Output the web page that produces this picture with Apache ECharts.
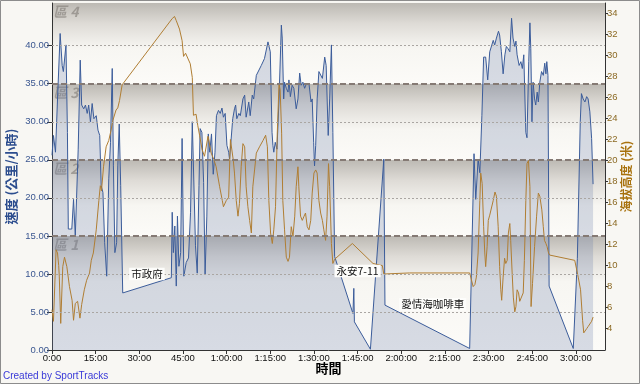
<!DOCTYPE html>
<html><head><meta charset="utf-8">
<script src="https://cdn.jsdelivr.net/npm/echarts@6/dist/echarts.min.js"></script>
<style>html,body{margin:0;padding:0;background:#f8f7f3}#c{width:640px;height:384px}</style>
</head><body><div id="c"></div>
<script>
// ---- data (time in minutes) ----
const speedTime = [0.0,0.5,1.2,1.9,2.8,3.5,3.9,4.8,5.3,5.6,6.8,7.4,8.0,9.0,9.7,10.2,10.9,11.5,12.1,12.6,13.2,13.8,14.4,15.2,15.8,16.4,16.9,17.5,18.1,18.8,19.5,20.1,20.7,21.1,21.6,22.2,22.6,23.1,23.6,24.3,
41.0,41.3,41.7,42.2,42.7,43.1,43.6,44.2,44.7,45.3,46.1,46.9,47.6,48.2,48.7,49.3,49.9,50.5,50.9,51.5,52.1,52.6,53.2,53.7,54.2,54.8,55.4,56.0,56.5,57.2,57.8,58.4,58.9,59.5,60.1,60.7,
61.0,62.1,62.7,63.1,63.5,64.2,64.7,65.6,66.2,66.7,67.6,68.1,68.8,69.3,70.2,71.9,73.0,74.2,74.5,75.0,75.6,75.9,76.2,76.7,77.3,78.0,78.8,79.1,79.6,79.9,80.5,81.1,81.4,81.9,82.5,83.1,83.9,84.5,85.1,85.6,86.2,86.8,87.4,88.3,89.0,89.4,89.9,90.2,90.6,91.1,91.7,92.3,92.9,93.7,94.2,94.9,95.4,96.0,96.5,97.1,
103.4,103.7,103.9,109.4,114.0,114.4,143.5,
145.0,145.6,146.4,147.0,147.7,148.3,149.0,149.7,150.4,151.0,151.6,152.1,152.7,153.4,153.8,154.4,155.0,155.6,156.1,156.7,157.3,157.9,158.4,159.0,159.4,159.8,160.5,161.1,161.6,162.1,162.8,163.2,163.8,164.2,164.5,164.9,165.3,165.8,166.2,166.7,167.1,167.6,168.2,168.8,169.3,169.7,170.0,170.4,170.8,
179.1,180.5,181.5,181.9,182.5,183.1,183.7,184.2,184.8,185.4,185.9];
const speedValue = [25.6,28.2,26.0,33.0,41.6,37.4,36.6,40.1,28.6,15.9,15.9,19.8,15.0,26.4,38.1,32.2,31.7,32.2,31.1,32.2,30.0,32.4,30.4,30.8,28.9,28.2,21.6,20.7,14.1,9.7,22.5,27.3,37.0,24.2,12.8,14.1,24.2,29.7,21.6,7.5,
9.5,18.1,12.8,16.3,8.4,17.6,11.0,12.8,27.8,9.7,11.5,12.1,18.1,30.0,30.2,13.7,10.1,21.6,29.1,28.6,22.0,9.9,17.6,28.4,26.0,28.4,23.1,26.0,30.8,31.5,31.1,31.8,30.6,31.1,26.9,26.0,
25.1,30.4,31.7,32.2,30.4,31.1,30.8,33.0,33.5,30.6,32.6,30.8,33.5,33.0,36.1,37.4,38.3,40.5,40.7,39.2,28.6,26.9,26.0,27.3,26.4,33.0,42.7,41.0,33.0,35.2,34.4,33.9,35.5,33.3,34.8,34.4,31.7,33.0,36.4,34.8,35.2,34.4,35.0,35.0,32.6,33.0,27.3,24.2,26.9,33.0,36.6,36.8,35.7,38.5,37.4,28.2,33.0,40.1,28.6,12.3,
4.8,8.1,3.7,0.1,25.1,5.9,0.2,
25.8,19.8,25.1,23.3,30.8,38.5,38.5,35.5,39.2,39.2,40.7,40.1,41.0,41.9,41.4,39.2,36.3,38.8,39.9,39.6,39.2,43.6,41.0,39.9,40.6,38.8,37.4,37.9,37.0,38.8,28.6,27.9,37.9,43.0,39.6,30.0,35.2,33.0,32.2,33.9,32.6,35.2,36.6,36.1,37.7,36.3,37.9,36.1,8.4,
0.2,12.0,30.0,33.7,33.0,32.6,33.3,33.0,31.3,27.8,21.8];

const elevTime = [0.0,0.5,1.4,1.9,2.3,2.5,3.0,3.7,4.3,5.1,6.0,6.9,7.4,8.0,8.8,9.6,10.2,11.1,11.9,12.9,13.5,14.2,15.2,16.1,16.6,17.0,17.7,18.6,19.5,20.3,20.9,22.0,22.6,23.2,24.1,
41.3,42.1,42.7,43.8,44.7,45.2,45.9,47.5,48.2,48.6,49.5,50.1,50.7,51.6,52.4,53.6,54.7,55.6,56.4,57.6,58.5,58.9,59.9,60.7,61.3,61.8,62.3,
62.7,63.3,63.9,64.4,65.0,65.6,66.2,66.7,67.3,67.9,68.5,69.0,69.6,70.2,71.3,72.5,73.4,74.0,74.5,75.1,75.7,76.2,76.8,77.4,78.0,78.4,78.9,79.3,79.9,80.5,81.1,81.6,82.2,82.8,83.4,83.9,84.5,84.8,85.4,86.0,86.6,87.1,87.7,88.3,88.9,89.4,90.0,90.6,91.1,91.7,92.3,92.9,93.4,94.0,94.5,95.0,95.4,96.0,96.5,97.1,
103.2,110.3,113.5,114.0,122.9,143.5,
144.7,145.3,145.8,146.4,147.0,147.3,147.8,148.3,148.7,149.0,149.5,149.9,150.4,150.9,151.6,152.2,152.7,153.3,153.8,154.2,154.5,155.0,155.5,155.9,156.4,156.8,157.3,157.6,158.1,158.5,159.0,159.4,159.8,160.3,160.7,161.3,161.9,162.3,162.8,163.2,163.7,164.2,164.6,165.1,165.8,166.5,167.1,167.6,168.3,168.8,169.2,169.7,170.1,170.6,171.0,
179.6,180.8,181.6,182.3,182.7,183.2,183.7,184.2,184.8,185.4,185.9];
const elevValue = [5.8,4.7,11.5,11.2,10.0,9.0,4.5,9.9,10.8,9.9,8.0,6.7,4.8,6.4,6.6,5.0,6.3,7.7,8.6,9.3,10.5,11.2,13.4,16.2,17.6,17.1,19.4,21.3,21.9,22.9,23.8,24.8,25.0,25.7,27.2,
33.5,33.7,33.3,32.5,31.4,29.9,30.2,29.2,27.9,24.3,24.4,23.3,22.4,21.0,20.4,22.3,20.7,20.1,19.4,17.5,16.2,15.6,16.2,16.5,22.0,21.0,20.0,
18.8,16.2,14.7,15.9,19.4,21.6,21.3,17.5,15.6,14.3,13.1,17.5,19.1,20.7,21.3,21.9,22.4,21.3,16.2,13.1,12.1,13.4,15.6,22.6,27.3,26.7,22.6,16.2,13.4,10.8,10.4,10.8,13.7,12.8,14.7,17.5,19.4,17.5,14.7,14.3,14.7,15.0,13.7,13.4,14.3,16.9,18.8,19.1,18.8,16.2,15.0,14.3,13.4,12.4,14.7,19.7,17.5,12.1,10.2,10.6,
12.1,10.2,10.0,9.2,9.3,9.3,
8.0,8.2,8.9,11.2,16.2,18.8,17.8,13.7,11.2,9.9,11.8,14.3,14.8,14.7,16.2,17.0,16.6,13.7,9.9,7.7,6.7,8.9,10.7,10.2,10.5,13.1,14.0,12.4,9.3,7.0,5.6,6.1,7.7,7.4,6.6,6.7,7.4,10.5,16.2,19.7,20.0,17.5,6.1,8.3,11.8,14.7,16.9,16.6,15.3,13.7,12.4,12.1,11.8,11.2,11.0,
10.5,8.9,7.7,4.8,3.6,3.7,4.0,4.2,4.3,4.7,5.1];

const timeTicks = [0,15,30,45,60,75,90,105,120,135,150,165,180];
const speedTicks = [0,5,10,15,20,25,30,35,40];
const elevTicks = [4,6,8,10,12,14,16,18,20,22,24,26,28,30,32,34];
const gridLinesSpeed = [5,10,20,30,40];
const zoneBounds = [0,15,25,35,45.61];
const zoneNames = ['區 1','區 2','區 3','區 4'];
const noteNames = ['市政府','永安7-11','愛情海咖啡車'];
const noteTime = [32.6,105.0,130.8];
const noteSpeed = [10.0,10.4,6.0];

const speedData = speedTime.map((t,i)=>[t,speedValue[i]]);
const elevData = elevTime.map((t,i)=>[t,elevValue[i]]);
const noteData = noteNames.map((n,i)=>({name:n,value:[noteTime[i],noteSpeed[i]]}));

function fmtTime(v){
  if(v<60) return v+':00';
  const h=Math.floor(v/60), m=v%60;
  return h+':'+(m<10?'0'+m:m)+':00';
}
const numFont='Liberation Sans';
const cjk='Noto Sans CJK TC';

const zoneAreas = zoneNames.map((n,i)=>{
  const lo=zoneBounds[i], hi=zoneBounds[i+1];
  const fade=Math.min(0.95,6/(hi-lo));
  return [{yAxis:hi,name:n,itemStyle:{color:{type:'linear',x:0,y:0,x2:0,y2:1,colorStops:[
    {offset:0,color:'#bcb9b3'},{offset:fade*0.45,color:'#dedbd6'},{offset:fade,color:'#f7f6f2'},{offset:1,color:'#fcfbf8'}]}}},{yAxis:lo}];
});

const chart = echarts.init(document.getElementById('c'),null,{renderer:'canvas'});
chart.setOption({
  animation:false,
  backgroundColor:'#f8f7f3',
  grid:{left:52,right:35,top:3,bottom:34,containLabel:false,outerBoundsMode:'none'},
  xAxis:{type:'value',min:0,max:190,interval:15,z:1,
    axisLine:{lineStyle:{color:'#333',width:1}},
    axisTick:{customValues:timeTicks,length:4,lineStyle:{color:'#333'}},
    axisLabel:{customValues:timeTicks,formatter:fmtTime,color:'#111',fontSize:9.5,fontFamily:numFont,margin:3},
    splitLine:{show:true,lineStyle:{color:'#aaa6a2',type:[2,2],width:1}},
    name:'時間',nameLocation:'middle',nameGap:12,nameMoveOverlap:false,
    nameTextStyle:{color:'#000',fontSize:13,fontWeight:'bold',fontFamily:cjk}},
  yAxis:[
    {type:'value',min:0,max:45.61,interval:5,position:'left',z:1,
     axisLine:{show:true,lineStyle:{color:'#333'}},
     axisTick:{show:true,customValues:speedTicks,length:5,lineStyle:{color:'#333'}},
     axisLabel:{customValues:speedTicks,formatter:v=>v.toFixed(2),color:'#3a5690',fontSize:9.5,fontFamily:numFont,margin:3},
     splitLine:{show:false},
     name:'速度 (公里/小時)',nameLocation:'middle',nameGap:34,nameRotate:90,nameMoveOverlap:false,
     nameTextStyle:{color:'#2c4d8e',fontSize:13,fontWeight:'bold',fontFamily:cjk}},
    {type:'value',min:1.97,max:34.98,position:'right',z:1,
     axisLine:{show:true,lineStyle:{color:'#333'}},
     axisTick:{show:true,customValues:elevTicks,length:3,lineStyle:{color:'#333'}},
     axisLabel:{customValues:elevTicks,color:'#8c6a24',fontSize:9.5,fontFamily:numFont,margin:2},
     splitLine:{show:false},
     name:'海拔高度 (米)',nameLocation:'middle',nameGap:15,nameRotate:90,nameMoveOverlap:false,
     nameTextStyle:{color:'#a8720e',fontSize:12,fontWeight:'bold',fontFamily:cjk}}
  ],
  series:[
    {type:'line',yAxisIndex:0,z:0,data:[[0,0]],showSymbol:false,lineStyle:{opacity:0},silent:true,
     markArea:{silent:true,data:zoneAreas,
       label:{show:true,position:'insideTopLeft',offset:[-4,-3],color:'rgba(120,115,110,0.55)',fontSize:14,fontStyle:'italic',fontWeight:'bold',fontFamily:cjk}}},
    {type:'line',yAxisIndex:0,z:1,data:[[0,0]],showSymbol:false,lineStyle:{opacity:0},silent:true,
     markLine:{silent:true,symbol:['none','none'],label:{show:false},
       data:gridLinesSpeed.map(v=>({yAxis:v,lineStyle:{type:[2,2],color:'#aaa6a2',width:1}}))
         .concat(zoneBounds.slice(1,4).map(v=>({yAxis:v,lineStyle:{type:[6,3],color:'#857a74',width:2}})))}},
    {type:'line',yAxisIndex:0,z:2,data:speedData,showSymbol:false,silent:true,
     lineStyle:{color:'#3b5c9a',width:1},
     areaStyle:{color:'rgba(104,123,168,0.36)'}},
    {type:'line',yAxisIndex:1,z:3,data:elevData,showSymbol:false,silent:true,
     lineStyle:{color:'#b07e33',width:1}},
    {type:'scatter',yAxisIndex:0,z:5,data:noteData,symbol:'circle',symbolSize:1,itemStyle:{color:'rgba(0,0,0,0)'},silent:true,
     label:{show:true,position:'inside',opacity:1,formatter:p=>p.name,backgroundColor:'#fdfdfb',padding:[1,2],color:'#111',fontSize:10.5,fontFamily:cjk}}
  ],
  graphic:[
    {type:'text',left:3,top:371,style:{text:'Created by SportTracks',fill:'#3a3ad8',fontSize:10,fontFamily:numFont}},
    {type:'rect',shape:{x:0.5,y:0.5,width:639,height:383},style:{fill:'none',stroke:'#8c8c8c',lineWidth:1},silent:true}
  ]
});
</script></body></html>
